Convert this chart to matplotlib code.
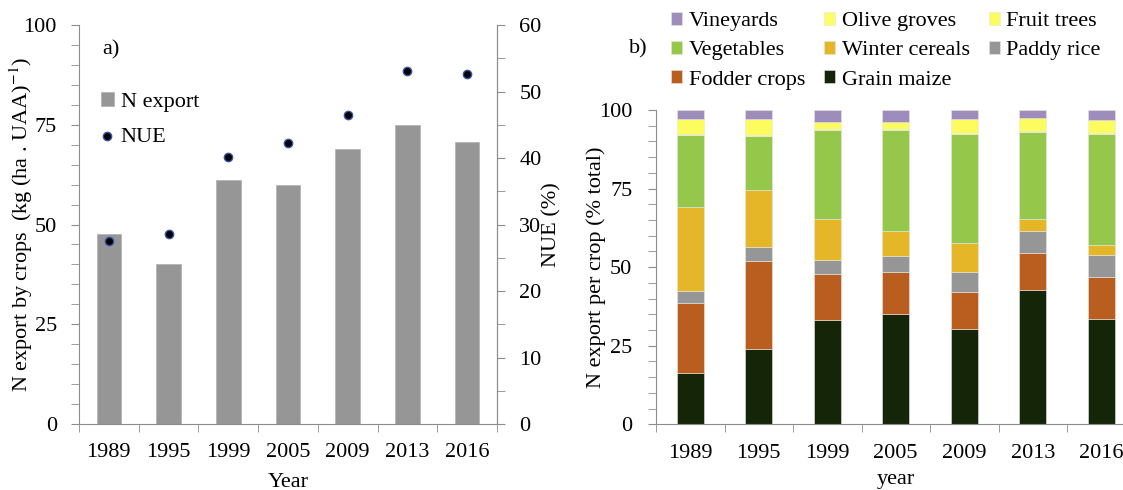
# N export and NUE by year, plus per-crop share of N export
import matplotlib
matplotlib.use("Agg")
import matplotlib.pyplot as plt
from matplotlib.ticker import MultipleLocator, FixedLocator
import numpy as np

# data
years = ['1989', '1995', '1999', '2005', '2009', '2013', '2016']
n_export = [47.5, 40.0, 61.1, 59.9, 68.9, 75.0, 70.8]   # kg (ha . UAA)-1
nue = [27.5, 28.6, 40.2, 42.2, 46.4, 53.1, 52.7]        # %

# per crop share (% total), bottom -> top
grain_maize = [16.2, 24.0, 33.1, 35.2, 30.3, 42.7, 33.5]
fodder_crops = [22.4, 28.0, 14.6, 13.1, 11.8, 11.7, 13.3]
paddy_rice = [3.7, 4.4, 4.5, 5.4, 6.3, 7.2, 7.0]
winter_cereals = [26.8, 18.0, 13.2, 7.9, 9.2, 3.7, 3.1]
vegetables = [22.9, 17.4, 28.3, 32.0, 34.8, 27.6, 35.4]
olive_groves = [0.5, 0.5, 0.3, 0.3, 0.5, 0.5, 0.5]
fruit_trees = [4.5, 4.7, 2.3, 2.3, 4.3, 4.2, 4.1]
vineyards = [3.0, 3.0, 3.7, 3.8, 2.8, 2.4, 3.2]

crop_names = ['Grain maize', 'Fodder crops', 'Paddy rice', 'Winter cereals',
              'Vegetables', 'Olive groves', 'Fruit trees', 'Vineyards']
crop_vals = [grain_maize, fodder_crops, paddy_rice, winter_cereals,
             vegetables, olive_groves, fruit_trees, vineyards]
crop_cols = ['#152608', '#ba5e1f', '#969696', '#e4b628',
             '#95c84a', '#fdfd66', '#fcfc5e', '#9e8dbb']

plt.rcParams['font.family'] = ['Liberation Serif', 'DejaVu Serif']
plt.rcParams['mathtext.fontset'] = 'stix'
FS = 16
AX = '#8c8c8c'
W, H = 1123, 490

fig = plt.figure(figsize=(W / 100, H / 100), dpi=100)

def box(x0, y0, x1, y1):
    # pixel box (top-left origin) -> figure fraction
    return [x0 / W, 1 - y1 / H, (x1 - x0) / W, (y1 - y0) / H]

x = np.arange(len(years))

# ---------- a) ----------
ax1 = fig.add_axes(box(79, 25, 497, 424))
b1 = ax1.bar(x, n_export, width=0.41, color='#969696', edgecolor='#b5b5b5',
             linewidth=0.6, label='N export', zorder=2)
ax1.set_xlim(-0.5, len(years) - 0.5)
ax1.set_ylim(0, 100)
ax1.yaxis.set_major_locator(MultipleLocator(25))
ax1.yaxis.set_minor_locator(MultipleLocator(5))
ax1.set_xticks(x)
ax1.set_xticklabels(years)
ax1.xaxis.set_minor_locator(FixedLocator(np.arange(-0.5, len(years), 1)))
ax1.tick_params(axis='x', which='major', length=0, pad=14, labelsize=FS)
ax1.tick_params(axis='x', which='minor', length=6, color=AX, direction='out')
ax1.tick_params(axis='y', which='both', length=6, color=AX, direction='out',
                pad=10, labelsize=FS)
ax1.spines['top'].set_visible(False)
for s in ['left', 'bottom', 'right']:
    ax1.spines[s].set_color(AX)
ax1.set_ylabel('N export by crops  (kg (ha . UAA)$^{-1}$)', fontsize=FS)
ax1.yaxis.set_label_coords(-0.105, 0.5)
ax1.set_xlabel('Year', fontsize=FS)
ax1.xaxis.set_label_coords(0.5, -0.122)

ax2 = ax1.twinx()
sc = ax2.scatter(x, nue, s=36, color='black', edgecolors='#3355aa',
                 linewidths=1.0, label='NUE', zorder=3)
ax2.set_ylim(0, 60)
ax2.yaxis.set_major_locator(MultipleLocator(10))
ax2.yaxis.set_minor_locator(MultipleLocator(5))
ax2.tick_params(axis='y', which='both', length=6, color=AX, direction='out',
                pad=10, labelsize=FS)
for s in ['top', 'left', 'bottom']:
    ax2.spines[s].set_visible(False)
ax2.spines['right'].set_color(AX)
ax2.set_ylabel('NUE (%)', fontsize=FS)
ax2.yaxis.set_label_coords(1.108, 0.5)

ax1.text(0.077, 0.937, 'a)', transform=ax1.transAxes, fontsize=FS,
         ha='center', va='center')
ax1.legend([b1, sc], ['N export', 'NUE'], loc='upper left',
           bbox_to_anchor=(0.052, 0.833), frameon=False, fontsize=FS,
           handlelength=0.6, handleheight=0.6, handletextpad=0.3,
           labelspacing=0.68, borderaxespad=0, borderpad=0)

# ---------- b) ----------
ax3 = fig.add_axes(box(656, 110, 1135.5, 424.3))
bottom = np.zeros(len(years))
bars = {}
for name, vals, col in zip(crop_names, crop_vals, crop_cols):
    bars[name] = ax3.bar(x, vals, bottom=bottom, width=0.40, color=col,
                         edgecolor='#e6e6e6', linewidth=0.4, label=name)
    bottom += np.array(vals)
ax3.set_xlim(-0.5, len(years) - 0.5)
ax3.set_ylim(0, 100)
ax3.yaxis.set_major_locator(MultipleLocator(25))
ax3.yaxis.set_minor_locator(MultipleLocator(5))
ax3.set_xticks(x)
ax3.set_xticklabels(years)
ax3.xaxis.set_minor_locator(FixedLocator(np.arange(-0.5, len(years), 1)))
ax3.tick_params(axis='x', which='major', length=0, pad=14, labelsize=FS)
ax3.tick_params(axis='x', which='minor', length=6, color=AX, direction='out')
ax3.tick_params(axis='y', which='both', length=6, color=AX, direction='out',
                pad=11, labelsize=FS)
for s in ['top', 'right']:
    ax3.spines[s].set_visible(False)
for s in ['left', 'bottom']:
    ax3.spines[s].set_color(AX)
ax3.set_ylabel('N export per crop (% total)', fontsize=FS)
ax3.yaxis.set_label_coords(-0.105, 0.5)
ax3.set_xlabel('year', fontsize=FS)
ax3.xaxis.set_label_coords(0.5, -0.145)

fig.text(638 / W, 1 - 49 / H, 'b)', fontsize=FS, ha='center', va='center')

# legend order row by row as in the figure (filled column-wise by mpl)
order = ['Vineyards', 'Vegetables', 'Fodder crops',
         'Olive groves', 'Winter cereals', 'Grain maize',
         'Fruit trees', 'Paddy rice']
fig.legend([bars[n] for n in order], order, ncol=3, loc='upper left',
           bbox_to_anchor=(671 / W, 1 - 12 / H), frameon=False, fontsize=FS,
           handlelength=0.5, handleheight=0.5, handletextpad=0.3,
           columnspacing=0.85, labelspacing=0.45, borderpad=0, borderaxespad=0)

fig.savefig('out.png', dpi=100)
